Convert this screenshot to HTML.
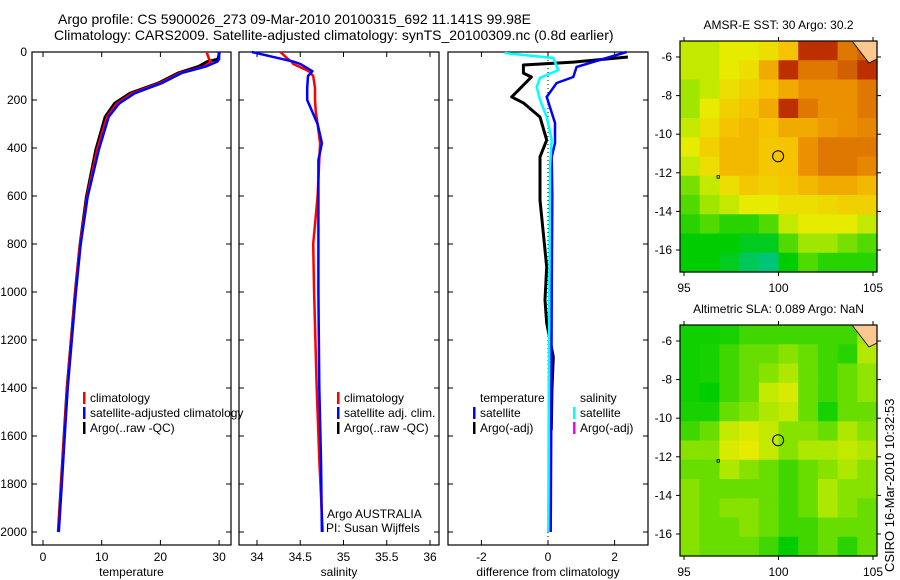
<!DOCTYPE html>
<html><head><meta charset="utf-8">
<style>
html,body{margin:0;padding:0;background:#fff;}
svg{display:block;font-family:"Liberation Sans",sans-serif;}
text{fill:#000;}
</style></head>
<body>
<svg id="fig" width="900" height="580" viewBox="0 0 900 580" xmlns="http://www.w3.org/2000/svg">
<text x="58" y="24" font-size="14">Argo profile: CS 5900026_273 09-Mar-2010 20100315_692 11.141S 99.98E</text>
<text x="54" y="40" font-size="14">Climatology: CARS2009. Satellite-adjusted climatology: synTS_20100309.nc (0.8d earlier)</text>
<text transform="translate(894,572) rotate(-90)" font-size="13">CSIRO 16-Mar-2010 10:32:53</text>
<g id="g"></g>
</svg>
<script>
// ---- data ----
const tDepth=[0,10,30,40,60,88,130,172,214,270,408,604,804,1000,1200,1400,1600,1800,2000];
const tClim=[27.9,28.0,28.3,28.6,27.5,23.3,19.9,15.2,12.6,10.9,9.2,7.5,6.3,5.5,4.8,4.1,3.6,3.1,2.6];
const tSat=[30.0,30.0,30.0,29.7,27.8,23.6,20.2,15.6,13.0,11.2,9.5,7.6,6.4,5.6,4.9,4.2,3.7,3.2,2.7];
const tArgo=[30.0,30.0,29.8,28.0,26.5,23.0,19.6,14.8,12.2,10.6,9.0,7.4,6.3,5.5,4.8,4.1,3.6,3.1,2.6];
const sDepth=[0,30,40,50,80,100,150,200,250,300,380,450,600,800,1000,1400,1700,2000];
const sClim=[34.27,34.36,34.40,34.42,34.60,34.65,34.67,34.67,34.68,34.70,34.73,34.72,34.70,34.65,34.66,34.69,34.72,34.76];
const sSat=[33.94,34.30,34.42,34.50,34.64,34.59,34.58,34.58,34.64,34.70,34.75,34.71,34.71,34.71,34.71,34.72,34.74,34.75];
const dBlueDepth=[0,62,104,129,187,296,379,437,600,1000,1500,2000];
const dBlue=[2.36,0.86,0.76,0.26,-0.04,0.21,0.21,0.11,0.13,0.11,0.1,0.08];
const dCyanDepth=[4,25,75,108,146,200,271,367,479,1000,1500,2000];
const dCyan=[-1.3,0.16,0.31,-0.24,-0.34,-0.24,-0.04,0.11,0.06,0.04,0.02,0.01];
const dBlackDepth=[21,42,54,88,104,187,212,271,367,437,546,617,754,896,1033,1129,1271,1400,1575];
const dBlack=[2.4,0.76,-0.74,-0.74,-0.5,-1.09,-0.74,-0.24,-0.04,-0.24,-0.24,-0.24,-0.14,-0.04,-0.09,-0.04,0.16,0.12,0.1];
const yTicks=[0,200,400,600,800,1000,1200,1400,1600,1800,2000];
const tTicks=[0,10,20,30];
const sTicks=[34,34.5,35,35.5,36];
const dTicks=[-2,0,2];
const sstGrid=[
[.5,.5,.55,.55,.6,.7,.95,.95,.85,.9],
[.5,.5,.55,.6,.75,.95,.85,.85,.9,.95],
[.45,.5,.6,.65,.7,.75,.8,.8,.8,.85],
[.45,.55,.65,.7,.75,.95,.85,.8,.8,.85],
[.5,.6,.7,.72,.7,.75,.75,.78,.8,.82],
[.55,.65,.72,.72,.68,.7,.8,.85,.85,.85],
[.5,.6,.72,.72,.68,.7,.8,.85,.85,.82],
[.4,.5,.6,.68,.65,.68,.72,.75,.75,.72],
[.35,.45,.5,.55,.55,.6,.6,.62,.65,.65],
[.3,.35,.3,.3,.35,.5,.55,.55,.55,.5],
[.25,.25,.25,.2,.2,.35,.45,.45,.4,.35],
[.25,.25,.2,.1,.05,.25,.35,.3,.3,.3]];
const slaGrid=[
[.27,.27,.28,.33,.33,.33,.33,.33,.33,.45],
[.27,.28,.33,.38,.38,.42,.38,.33,.3,.48],
[.27,.28,.33,.38,.42,.47,.38,.33,.38,.43],
[.27,.25,.33,.38,.5,.53,.38,.33,.38,.43],
[.28,.28,.38,.42,.47,.5,.38,.28,.38,.38],
[.33,.38,.5,.53,.5,.42,.42,.38,.47,.42],
[.42,.42,.53,.55,.5,.42,.47,.47,.5,.47],
[.38,.38,.47,.42,.38,.33,.38,.42,.47,.42],
[.42,.38,.38,.38,.38,.33,.38,.47,.42,.42],
[.42,.38,.42,.42,.38,.33,.38,.47,.42,.38],
[.42,.38,.38,.42,.38,.33,.33,.38,.38,.38],
[.42,.38,.38,.38,.33,.25,.33,.38,.3,.38]];
const lonTicks=[95,100,105];
const latTicks=[-6,-8,-10,-12,-14,-16];
// ---- drawing ----
const NS='http://www.w3.org/2000/svg';
const G=document.getElementById('g');
function mk(tag,attrs,parent){const e=document.createElementNS(NS,tag);for(const k in attrs)e.setAttribute(k,attrs[k]);(parent||G).appendChild(e);return e;}
const Y=d=>52+d*0.24;
function panel(name,x0,x1,xs,ticks,lab,showY){
  const g=mk('g',{});
  
  
  const fr=mk('rect',{x:x0,y:52,width:x1-x0,height:493,fill:'none',stroke:'#000','stroke-width':1.2},g);
  
  
  ticks.forEach(t=>{const x=xs(t);
    mk('line',{x1:x,x2:x,y1:545,y2:540,stroke:'#000'},g);
    mk('line',{x1:x,x2:x,y1:52,y2:57,stroke:'#000'},g);
    const tx=mk('text',{x:x,y:561,'font-size':12,'text-anchor':'middle'},g);tx.textContent=String(t);
    
    
  });
  yTicks.forEach(d=>{const y=Y(d);
    mk('line',{x1:x0,x2:x0+5,y1:y,y2:y,stroke:'#000'},g);
    mk('line',{x1:x1,x2:x1-5,y1:y,y2:y,stroke:'#000'},g);
    if(showY){const tx=mk('text',{x:x0-5,y:y+4,'font-size':12,'text-anchor':'end'},g);tx.textContent=String(d);
      
      }
  });
  const xl=mk('text',{x:(x0+x1)/2,y:576,'font-size':12,'text-anchor':'middle'},g);xl.textContent=lab;
  
  
  return g;
}
function line(name,vals,depths,xs,color,w,parent,dash){
  const pts=vals.map((v,i)=>xs(v).toFixed(1)+','+Y(depths[i]).toFixed(1)).join(' ');
  const p=mk('polyline',{points:pts,fill:'none',stroke:color,'stroke-width':w,'stroke-linejoin':'round'},parent);
  if(dash)p.setAttribute('stroke-dasharray',dash);
  
  
}
function legend(items,x,y,parent){
  items.forEach((it,i)=>{const yy=y+i*15;
    if(it[1]){const m=mk('rect',{x:x,y:yy-10,width:2.5,height:12,fill:it[1]},parent);
      
      }
    const t=mk('text',{x:x+7,y:yy,'font-size':12},parent);t.textContent=it[0];
    
    
  });
}
// panel 1 temperature
const xT=v=>43+v*5.87;
const p1=panel('temperature-panel',32,231,xT,tTicks,'temperature',true);
line('temp-argo',tArgo,tDepth,xT,'#000',3,p1);
line('temp-climatology',tClim,tDepth,xT,'#f00',2.5,p1);
line('temp-satellite-adjusted',tSat,tDepth,xT,'#00f',2.5,p1);
legend([['climatology','#f00'],['satellite-adjusted climatology','#00f'],['Argo(..raw -QC)','#000']],83,402,p1);
// panel 2 salinity
const xS=v=>257+(v-34)*86.5;
const p2=panel('salinity-panel',239,439,xS,sTicks,'salinity',false);
line('sal-climatology',sClim,sDepth,xS,'#f00',2.5,p2);
line('sal-satellite-adjusted',sSat,sDepth,xS,'#00f',2.5,p2);
legend([['climatology','#f00'],['satellite adj. clim.','#00f'],['Argo(..raw -QC)','#000']],337,402,p2);
const a1=mk('text',{x:327,y:518,'font-size':12},p2);a1.textContent='Argo AUSTRALIA';

const a2=mk('text',{x:326,y:532,'font-size':12},p2);a2.textContent='PI: Susan Wijffels';

// panel 3 difference
const xD=v=>548+v*33.3;
const p3=panel('difference-panel',448,648,xD,dTicks,'difference from climatology',false);
mk('line',{x1:xD(0),x2:xD(0),y1:52,y2:545,stroke:'#000','stroke-dasharray':'1,3'},p3);
line('diff-temp-argo',dBlack,dBlackDepth,xD,'#000',3,p3);
line('diff-temp-satellite',dBlue,dBlueDepth,xD,'#00f',2.5,p3);
line('diff-sal-satellite',dCyan,dCyanDepth,xD,'#0ff',2.5,p3);
legend([['temperature',null],['satellite','#00f'],['Argo(-adj)','#000']],473,402,p3);
legend([['salinity',null],['satellite','#0ff'],['Argo(-adj)','#f0f']],573,402,p3);
// colormap
const stops=[[0,[0,195,150]],[.25,[0,205,0]],[.45,[160,230,0]],[.55,[230,235,0]],[.7,[245,195,0]],[.8,[235,145,0]],[.9,[210,95,0]],[1,[165,0,0]]];
function cmap(v){for(let i=1;i<stops.length;i++){if(v<=stops[i][0]){const a=stops[i-1],b=stops[i],f=(v-a[0])/(b[0]-a[0]);return 'rgb('+a[1].map((c,k)=>Math.round(c+(b[1][k]-c)*f)).join(',')+')';}}return 'rgb(165,0,0)';}
function map(name,top,grid,title){
  const g=mk('g',{});
  
  
  const lx=v=>684+(v-95)*18.9, ly=v=>top+16+(-6-v)*19.3;
  const x0=680,x1=877,y0=top,y1=top+231;
  const rows=grid.length,cols=grid[0].length,cw=(x1-x0)/cols,ch=(y1-y0)/rows;
  grid.forEach((r,i)=>r.forEach((v,j)=>{
    const c=mk('rect',{x:x0+j*cw,y:y0+i*ch,width:cw+0.6,height:ch+0.6,fill:cmap(v)},g);
    
    
  }));
  mk('polygon',{points:`${x1-25},${y0} ${x1},${y0} ${x1},${y0+18} ${x1-8},${y0+22}`,fill:'#fcc890',stroke:'#000','stroke-width':0.8},g);
  mk('rect',{x:x0,y:y0,width:x1-x0,height:y1-y0,fill:'none',stroke:'#000','stroke-width':1.2},g);
  lonTicks.forEach(t=>{const x=lx(t);mk('line',{x1:x,x2:x,y1:y1,y2:y1+4,stroke:'#000'},g);mk('line',{x1:x,x2:x,y1:y0,y2:y0-4,stroke:'#000'},g);
    const tx=mk('text',{x:x,y:y1+20,'font-size':12,'text-anchor':'middle'},g);tx.textContent=String(t);
    });
  latTicks.forEach(t=>{const y=ly(t);mk('line',{x1:x0,x2:x0-4,y1:y,y2:y,stroke:'#000'},g);mk('line',{x1:x1,x2:x1+4,y1:y,y2:y,stroke:'#000'},g);
    const tx=mk('text',{x:x0-8,y:y+4,'font-size':12,'text-anchor':'end'},g);tx.textContent=String(t);
    });
  const c=mk('circle',{cx:lx(99.98),cy:ly(-11.141),r:5.5,fill:'none',stroke:'#000','stroke-width':1},g);
  
  mk('rect',{x:lx(96.8)-1,y:ly(-12.2)-1,width:2.5,height:2.5,fill:'none',stroke:'#000','stroke-width':0.8},g);
  const tt=mk('text',{x:(x0+x1)/2,y:top-12,'font-size':12,'text-anchor':'middle'},g);tt.textContent=title;
  
}
map('sst-map',41,sstGrid,'AMSR-E SST: 30 Argo: 30.2');
map('sla-map',325,slaGrid,'Altimetric SLA: 0.089 Argo: NaN');
</script>
</body></html>
